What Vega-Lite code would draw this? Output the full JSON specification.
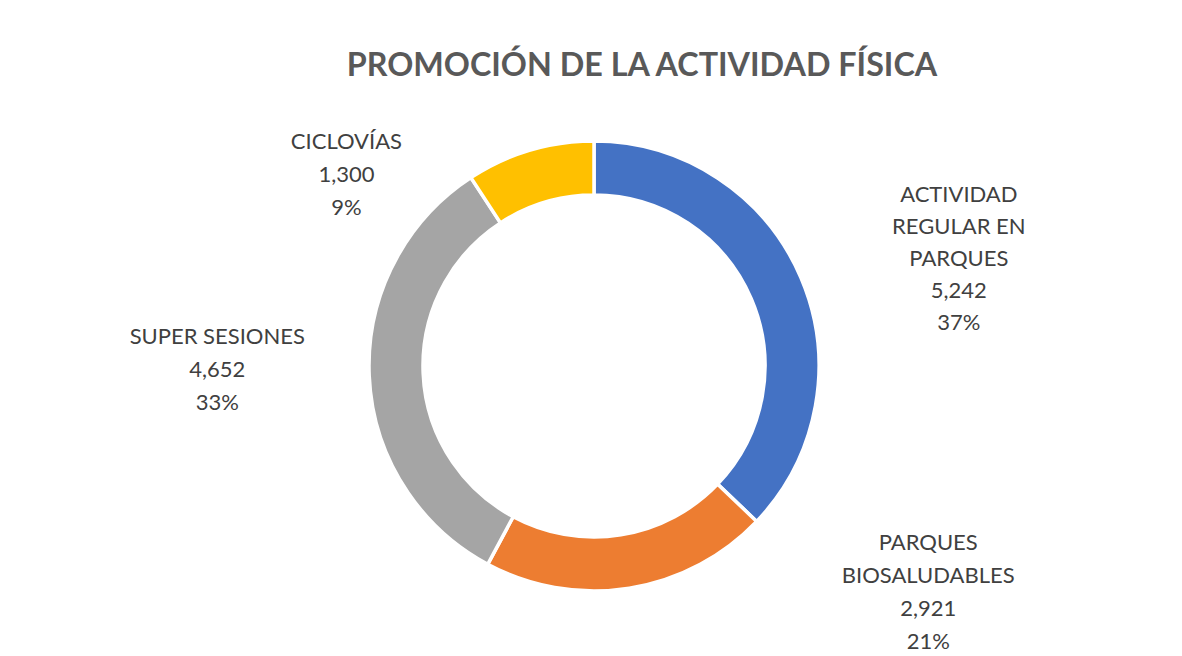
{
  "$schema": "https://vega.github.io/schema/vega-lite/v6.json",
  "width": 1176,
  "height": 580,
  "autosize": {"type": "none"},
  "padding": {"left": 6, "top": 76, "right": 0, "bottom": 0},
  "background": "white",
  "config": {"view": {"stroke": null}},
  "title": {
    "text": "PROMOCIÓN DE LA ACTIVIDAD FÍSICA",
    "font": "Lato",
    "fontSize": 32.3,
    "fontWeight": "bold",
    "color": "#595959",
    "anchor": "middle",
    "dx": 48,
    "offset": -6
  },
  "data": {
    "values": [
      {"categoria": "ACTIVIDAD\nREGULAR EN\nPARQUES", "valor": 5242},
      {"categoria": "PARQUES\nBIOSALUDABLES", "valor": 2921},
      {"categoria": "SUPER SESIONES", "valor": 4652},
      {"categoria": "CICLOVÍAS", "valor": 1300}
    ]
  },
  "transform": [
    {"window": [{"op": "row_number", "as": "orden"}]},
    {"joinaggregate": [{"op": "sum", "field": "valor", "as": "total"}]},
    {"stack": "valor", "groupby": [], "sort": [{"field": "orden", "order": "ascending"}], "offset": "normalize", "as": ["inicio", "fin"]},
    {"calculate": "(datum.inicio + datum.fin) / 2", "as": "medio"},
    {"calculate": "datum.categoria + '\\n' + format(datum.valor, ',') + '\\n' + format(datum.valor / datum.total, '.0%')", "as": "etiqueta"}
  ],
  "layer": [
    {
      "mark": {"type": "arc", "outerRadius": 225, "innerRadius": 171, "stroke": "white", "strokeWidth": 3.5},
      "encoding": {
        "theta": {"field": "inicio", "type": "quantitative", "scale": {"domain": [0, 1]}},
        "theta2": {"field": "fin"},
        "color": {
          "field": "categoria",
          "type": "nominal",
          "scale": {
            "domain": ["ACTIVIDAD\nREGULAR EN\nPARQUES", "PARQUES\nBIOSALUDABLES", "SUPER SESIONES", "CICLOVÍAS"],
            "range": ["#4472C4", "#ED7D31", "#A5A5A5", "#FFC000"]
          },
          "legend": null
        }
      }
    },
    {
      "transform": [{"filter": "datum.orden == 1"}],
      "mark": {"type": "text", "radius": 300, "dx": 89, "dy": -53, "font": "Lato", "fontSize": 22, "color": "#404040", "lineBreak": "\n", "lineHeight": 32, "align": "center", "baseline": "middle"},
      "encoding": {"theta": {"field": "medio", "type": "quantitative", "scale": {"domain": [0, 1]}}, "text": {"field": "etiqueta"}}
    },
    {
      "transform": [{"filter": "datum.orden == 2"}],
      "mark": {"type": "text", "radius": 300, "dx": 287, "dy": -119, "font": "Lato", "fontSize": 22, "color": "#404040", "lineBreak": "\n", "lineHeight": 33, "align": "center", "baseline": "middle"},
      "encoding": {"theta": {"field": "medio", "type": "quantitative", "scale": {"domain": [0, 1]}}, "text": {"field": "etiqueta"}}
    },
    {
      "transform": [{"filter": "datum.orden == 3"}],
      "mark": {"type": "text", "radius": 300, "dx": -77, "dy": -42, "font": "Lato", "fontSize": 22, "color": "#404040", "lineBreak": "\n", "lineHeight": 33, "align": "center", "baseline": "middle"},
      "encoding": {"theta": {"field": "medio", "type": "quantitative", "scale": {"domain": [0, 1]}}, "text": {"field": "etiqueta"}}
    },
    {
      "transform": [{"filter": "datum.orden == 4"}],
      "mark": {"type": "text", "radius": 300, "dx": -162, "dy": 64, "font": "Lato", "fontSize": 22, "color": "#404040", "lineBreak": "\n", "lineHeight": 33, "align": "center", "baseline": "middle"},
      "encoding": {"theta": {"field": "medio", "type": "quantitative", "scale": {"domain": [0, 1]}}, "text": {"field": "etiqueta"}}
    }
  ]
}
